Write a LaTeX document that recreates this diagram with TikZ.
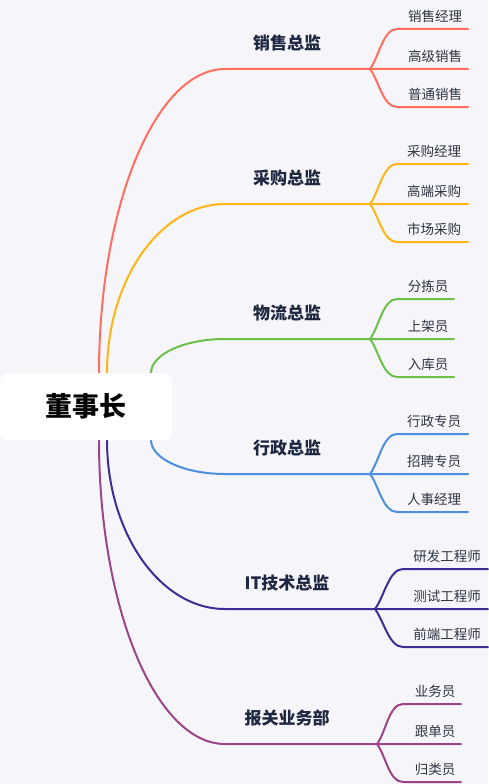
\documentclass[tikz,border=0pt]{standalone}
\usepackage{fontspec}
\setmainfont{Noto Sans CJK SC}
\usetikzlibrary{calc}
\definecolor{bg}{HTML}{F6F6FA}
\definecolor{cred}{HTML}{FF6E5F}
\definecolor{corange}{HTML}{FDB515}
\definecolor{cgreen}{HTML}{6CC04A}
\definecolor{cblue}{HTML}{4A8FE0}
\definecolor{cindigo}{HTML}{3D2E96}
\definecolor{cpurple}{HTML}{9C4489}
\definecolor{tbranch}{HTML}{1E2840}
\definecolor{tleaf}{HTML}{2F3542}
\tikzset{
  rootbox/.style={fill=white, rounded corners=9pt, minimum width=172pt, minimum height=67pt, inner sep=0pt, font=\fontsize{27}{30}\selectfont\bfseries, text=black},
  branchlab/.style={font=\fontsize{17}{20}\selectfont\bfseries, text=tbranch, inner sep=0pt},
  leaflab/.style={font=\fontsize{13.5}{16}\selectfont, text=tleaf, inner sep=0pt},
  conn/.style={line width=2pt, line cap=round}
}
\begin{document}
\begin{tikzpicture}[x=1pt,y=-1pt]
\fill[bg] (0,0) rectangle (488,784);
\useasboundingbox (0,0) rectangle (488,784);
\node[rootbox] (root) at (86,406.5) {董事长};
\foreach \col/\sx/\sy/\ey/\sp/\hx/\ex/\tx/\lab/\la/\lb/\lc [count=\i] in {
  cred/99/373/69/370/397/468/435/销售总监/销售经理/高级销售/普通销售,
  corange/107/373/204/370/397/468/434/采购总监/采购经理/高端采购/市场采购,
  cgreen/151/373/339/370/397/454/428/物流总监/分拣员/上架员/入库员,
  cblue/151/440/474/370/397/468/434/行政总监/行政专员/招聘专员/人事经理,
  cindigo/107/440/609/375/403/488/447/IT技术总监/研发工程师/测试工程师/前端工程师,
  cpurple/99/440/744/377/403/461/435/报关业务部/业务员/跟单员/归类员}
{
  \coordinate (s\i) at (\sx,\sy);
  \coordinate (h\i) at (225,\ey);
  \coordinate (p\i) at (\sp,\ey);
  \coordinate (ea\i) at (\ex,\ey-40);
  \coordinate (eb\i) at (\ex,\ey);
  \coordinate (ec\i) at (\ex,\ey+38);
  \node[branchlab] (b\i) at (287,\ey-26) {\lab};
  \node[leaflab] (la\i) at (\tx,\ey-53) {\la};
  \node[leaflab] (lb\i) at (\tx,\ey-13) {\lb};
  \node[leaflab] (lc\i) at (\tx,\ey+25) {\lc};
  \draw[conn, \col] (s\i) .. controls (\sx,{\sy+0.55*(\ey-\sy)}) and ({225-0.55*(225-\sx)},\ey) .. (h\i) -- (p\i) -- (eb\i);
  \draw[conn, \col] (p\i) .. controls (\sp+9,\ey-12) and (\hx-14,\ey-40) .. (\hx,\ey-40) -- (ea\i);
  \draw[conn, \col] (p\i) .. controls (\sp+9,\ey+12) and (\hx-14,\ey+38) .. (\hx,\ey+38) -- (ec\i);
}
\node[rootbox] at (root) {董事长};
\end{tikzpicture}
\end{document}
